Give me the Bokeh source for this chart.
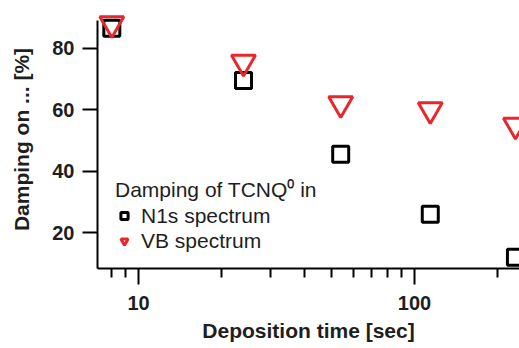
from bokeh.plotting import figure
from bokeh.models import Range1d, Legend, LegendItem, FixedTicker, PrintfTickFormatter
from bokeh.embed import file_html
from bokeh.resources import INLINE

# data
time_sec = [8, 24, 54, 114, 232]
n1s_damping = [86.5, 69.5, 45.5, 26.0, 12.0]
vb_damping = [88.0, 75.5, 62.0, 60.0, 55.0]
y_ticks = [20, 40, 60, 80]
x_major = [10, 100]
x_minor = [8, 9, 20, 30, 40, 50, 60, 70, 80, 90, 200]

FONT = "Liberation Sans"
RED = "#e8262b"
TXT = "#1e1e1e"

p = figure(width=519, height=348, x_axis_type="log",
           x_range=Range1d(7.1, 240), y_range=Range1d(8.3, 92.3),
           output_backend="svg", toolbar_location=None,
           min_border_left=97, min_border_right=0, min_border_top=10, min_border_bottom=80)
p.outline_line_color = None
p.xgrid.visible = False
p.ygrid.visible = False
p.background_fill_color = "white"

r1 = p.scatter(time_sec, n1s_damping, marker="square", size=16, fill_color=None,
               line_color="black", line_width=3)
r2 = p.scatter(time_sec, vb_damping, marker="inverted_triangle", size=24, fill_color=None,
               line_color=RED, line_width=3)

for ax in (p.xaxis[0], p.yaxis[0]):
    ax.axis_line_width = 2
    ax.major_tick_line_width = 2
    ax.minor_tick_line_width = 2
    ax.major_label_text_font = FONT
    ax.major_label_text_font_style = "bold"
    ax.major_label_text_font_size = "20px"
    ax.major_label_text_color = TXT
    ax.axis_label_text_font = FONT
    ax.axis_label_text_font_style = "bold"
    ax.axis_label_text_font_size = "21px"
    ax.axis_label_text_color = TXT
    ax.major_tick_in = 0
    ax.minor_tick_in = 0

p.yaxis.bounds = (8.3, 89.1)
p.yaxis.ticker = FixedTicker(ticks=y_ticks)
p.yaxis.major_tick_out = 15
p.yaxis.minor_tick_out = 0
p.yaxis.major_label_standoff = 8
p.yaxis.axis_label = "Damping on ... [%]"
p.yaxis.axis_label_standoff = 16

p.xaxis.ticker = FixedTicker(ticks=x_major, minor_ticks=x_minor)
p.xaxis.formatter = PrintfTickFormatter(format="%d")
p.xaxis.major_tick_out = 16
p.xaxis.minor_tick_out = 9
p.xaxis.major_label_standoff = 11
p.xaxis.axis_label = "Deposition time [sec]"
p.xaxis.axis_label_standoff = 6

legend = Legend(items=[LegendItem(label="N1s spectrum", renderers=[r1]),
                       LegendItem(label="VB spectrum", renderers=[r2])],
                title="Damping of TCNQ\u2070 in",
                location=(18, 15))
legend.title_text_font = FONT
legend.title_text_font_style = "normal"
legend.title_text_font_size = "21px"
legend.title_text_color = TXT
legend.title_standoff = 0
legend.label_text_font = FONT
legend.label_text_font_size = "21px"
legend.label_text_color = TXT
legend.padding = 0
legend.spacing = 0
legend.margin = 0
legend.glyph_width = 18
legend.glyph_height = 25
legend.label_height = 23
legend.label_standoff = 8
legend.border_line_color = None
legend.background_fill_alpha = 0
p.add_layout(legend)

open("out.html", "w").write(file_html(p, INLINE))
